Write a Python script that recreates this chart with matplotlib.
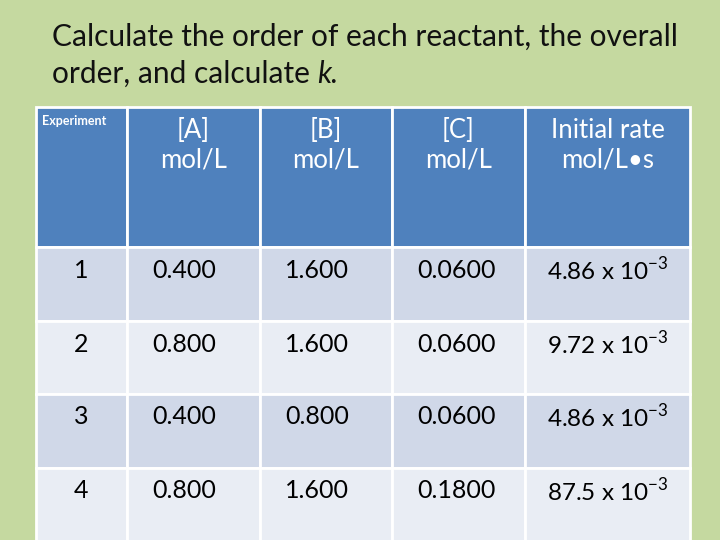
import matplotlib
matplotlib.use("Agg")
import matplotlib.pyplot as plt
from matplotlib.patches import Rectangle

plt.rcParams['font.family'] = ['Lato', 'DejaVu Sans']
plt.rcParams['mathtext.fontset'] = 'custom'
plt.rcParams['mathtext.rm'] = 'Lato'
plt.rcParams['axes.unicode_minus'] = False

title1 = "Calculate the order of each reactant, the overall"
title2 = "order, and calculate "
headers = ["Experiment", "[A]\nmol/L", "[B]\nmol/L", "[C]\nmol/L", "Initial rate\nmol/L\u2022s"]
experiments = ["1", "2", "3", "4"]
conc_A = ["0.400", "0.800", "0.400", "0.800"]
conc_B = ["1.600", "1.600", "0.800", "1.600"]
conc_C = ["0.0600", "0.0600", "0.0600", "0.1800"]
rate_mant = ["4.86", "9.72", "4.86", "87.5"]
rate_exp = ["-3", "-3", "-3", "-3"]

col_edges = [36, 127, 260, 392, 525, 690]
row_edges = [107, 247, 321, 394, 468, 545]

fig = plt.figure(figsize=(7.2, 5.4), dpi=100)
fig.patch.set_facecolor('#c5d9a0')
ax = fig.add_axes([0, 0, 1, 1])
ax.set_xlim(0, 720); ax.set_ylim(540, 0); ax.axis('off')

ax.text(52, 37, title1, fontsize=21.5, va='center', ha='left', color='#111111')
t = ax.text(52, 74, title2, fontsize=21.5, va='center', ha='left', color='#111111')
fig.canvas.draw()
bb = t.get_window_extent().transformed(ax.transData.inverted())
ax.text(bb.x1, 74, "k.", fontsize=21.5, style='italic', va='center', ha='left', color='#111111')

rows = [[experiments[i], conc_A[i], conc_B[i], conc_C[i],
         rf"{rate_mant[i]} x 10$^{{\mathregular{{{rate_exp[i]}}}}}$"] for i in range(4)]

for r in range(5):
    y0, y1 = row_edges[r], row_edges[r+1]
    if r == 0:
        fc = '#4f81bd'
    else:
        fc = '#d0d8e8' if r % 2 == 1 else '#e9edf4'
    for c in range(5):
        x0, x1 = col_edges[c], col_edges[c+1]
        ax.add_patch(Rectangle((x0, y0), x1-x0, y1-y0, facecolor=fc, edgecolor='white', lw=2))
        if r == 0:
            if c == 0:
                ax.text(x0+6, y0+14, headers[0], fontsize=9, fontweight='bold', color='white', va='center', ha='left')
            else:
                ax.text((x0+x1)/2, y0+38, headers[c], fontsize=18.5, color='white', va='center', ha='center', linespacing=1.25)
        else:
            txt = rows[r-1][c]
            if c == 0:
                ax.text(x0+38, y0+23, txt, fontsize=18, color='black', va='center', ha='left')
            elif c == 4:
                ax.text(x0+22, y0+23, txt, fontsize=17.5, color='black', va='center', ha='left')
            else:
                ax.text(x0+25, y0+23, txt, fontsize=18, color='black', va='center', ha='left')

fig.savefig('out.png', dpi=100, facecolor=fig.get_facecolor())
